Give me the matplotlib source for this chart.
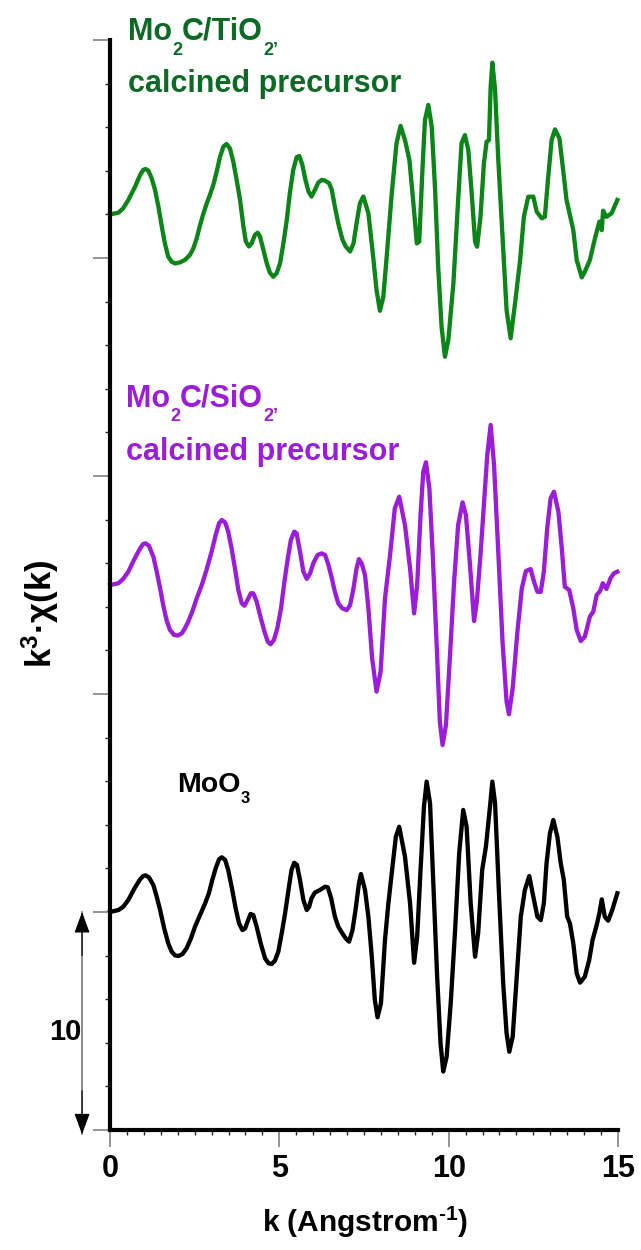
import matplotlib.pyplot as plt
import matplotlib.transforms as mtransforms
from matplotlib.ticker import MultipleLocator
import numpy as np

plt.rcParams["font.family"] = ["Liberation Sans", "DejaVu Sans"]
plt.rcParams["font.weight"] = "bold"
plt.rcParams["mathtext.default"] = "regular"

# k^3*chi(k)
green_k = [0, 0.25, 0.39, 0.54, 0.74, 0.89, 0.98, 1.05, 1.13, 1.23, 1.33, 1.43, 1.53, 1.62, 1.72,
           1.82, 1.92, 2.07, 2.21, 2.36, 2.46, 2.56, 2.66, 2.76, 2.85, 2.95, 3.05, 3.15, 3.25, 3.35,
           3.44, 3.54, 3.64, 3.74, 3.84, 3.94, 4.01, 4.10, 4.18, 4.28, 4.36, 4.43, 4.53, 4.63, 4.72,
           4.82, 4.92, 5.02, 5.12, 5.22, 5.31, 5.41, 5.51, 5.59, 5.68, 5.76, 5.86, 5.95, 6.05, 6.15,
           6.25, 6.35, 6.47, 6.55, 6.64, 6.74, 6.86, 6.96, 7.09, 7.19, 7.28, 7.38, 7.48,
           7.63, 7.77, 7.87, 7.97, 8.07, 8.17, 8.32, 8.46, 8.58, 8.71, 8.84, 8.95, 9.06, 9.13, 9.23,
           9.30, 9.40, 9.50, 9.60, 9.69, 9.79, 9.89, 9.99, 10.14, 10.28, 10.38, 10.48, 10.58, 10.68,
           10.78, 10.84, 10.94, 11.04, 11.12, 11.19, 11.24, 11.29, 11.37, 11.46, 11.59, 11.71, 11.83,
           11.96, 12.11, 12.22, 12.35, 12.50, 12.60, 12.75, 12.84, 12.94, 13.04, 13.14, 13.27, 13.38,
           13.48, 13.68, 13.78, 13.93, 14.02, 14.17, 14.32, 14.45, 14.52, 14.56, 14.66, 14.81, 14.98]
green_chi = [0.0, 0.08, 0.28, 0.66, 1.27, 1.81, 2.04, 2.08, 2.01, 1.66, 1.12, 0.35, -0.56, -1.33,
             -1.94, -2.17, -2.25, -2.20, -2.09, -1.86, -1.56, -1.10, -0.49, 0.05, 0.48, 0.89, 1.35,
             1.96, 2.65, 3.11, 3.23, 3.03, 2.42, 1.58, 0.66, -0.56, -1.24, -1.47, -1.33, -0.94, -0.84,
             -1.02, -1.63, -2.25, -2.67, -2.86, -2.70, -2.25, -1.33, -0.26, 0.97, 2.04, 2.62, 2.68,
             2.27, 1.66, 1.05, 0.82, 1.12, 1.46, 1.58, 1.55, 1.43, 1.12, 0.35, -0.41, -1.14, -1.47,
             -1.70, -1.33, -0.41, 0.51, 0.82,
             0.05, -1.94, -3.47, -4.42, -3.78, -1.94, 0.97, 3.26, 4.06, 3.41, 2.50, 0.66, -1.33,
             -1.25, 2.19, 4.33, 5.02, 4.02, 1.12, -2.40, -5.15, -6.53, -5.76, -3.16, 0.66, 3.26, 3.64,
             2.95, 0.97, -1.25, -1.48, -0.11, 2.34, 3.33, 3.41, 5.86, 6.96, 5.71, 2.65, -1.02, -4.39,
             -5.68, -4.08, -2.09, -0.11, 0.81, 0.81, 0.12, -0.18, -0.11, 1.73, 3.41, 3.90, 3.49, 2.04,
             0.66, -0.72, -2.09, -2.89, -2.63, -2.09, -1.10, -0.33, -0.72, 0.17, -0.11, 0.05, 0.66]

purple_k = [0, 0.25, 0.39, 0.54, 0.74, 0.89, 0.98, 1.05, 1.15, 1.28, 1.38, 1.48, 1.57, 1.67, 1.77,
            1.89, 2.00, 2.12, 2.21, 2.31, 2.43, 2.56, 2.71, 2.85, 3.00, 3.12, 3.22, 3.30, 3.40, 3.49,
            3.59, 3.69, 3.79, 3.89, 3.97, 4.06, 4.16, 4.23, 4.33, 4.43, 4.56, 4.66, 4.74, 4.84, 4.94,
            5.05, 5.15, 5.25, 5.34, 5.44, 5.51, 5.61, 5.71, 5.81, 5.91, 6.00, 6.13, 6.25, 6.35, 6.45,
            6.55, 6.64, 6.74, 6.86, 6.99, 7.09, 7.19, 7.28, 7.35, 7.43,
            7.53, 7.63, 7.74, 7.87, 7.99, 8.12, 8.27, 8.41, 8.54, 8.71, 8.86, 8.98, 9.07, 9.17, 9.25,
            9.33, 9.43, 9.53, 9.65, 9.74, 9.82, 9.92, 10.04, 10.16, 10.28, 10.41, 10.51, 10.63, 10.75,
            10.83, 10.94, 11.04, 11.14, 11.24, 11.34, 11.46, 11.59, 11.71, 11.78, 11.89, 12.03, 12.16,
            12.28, 12.42, 12.52, 12.62, 12.72, 12.81, 12.91, 13.01, 13.11, 13.24, 13.34, 13.43, 13.56,
            13.68, 13.78, 13.90, 14.02, 14.17, 14.27, 14.37, 14.47, 14.55, 14.66, 14.78, 14.88, 14.98]
purple_chi = [0.0, 0.08, 0.28, 0.61, 1.25, 1.68, 1.88, 1.91, 1.80, 1.30, 0.61, -0.15, -0.92, -1.61,
              -2.06, -2.29, -2.32, -2.22, -1.99, -1.68, -1.22, -0.61, 0.0, 0.69, 1.53, 2.29, 2.83,
              2.98, 2.87, 2.45, 1.68, 0.76, -0.23, -0.84, -0.95, -0.69, -0.38, -0.38, -0.76, -1.38,
              -2.14, -2.60, -2.72, -2.52, -1.99, -1.07, 0.15, 1.22, 2.06, 2.45, 2.37, 1.53, 0.61, 0.28,
              0.54, 0.99, 1.38, 1.45, 1.38, 0.92, 0.31, -0.31, -0.84, -1.07, -1.15, -0.92, -0.15, 0.76,
              1.19, 0.99,
              0.46, -1.07, -3.36, -4.89, -3.98, -0.61, 1.38, 3.52, 4.05, 2.75, 0.77, -1.30, 0.00, 3.21,
              5.20, 5.63, 4.44, 1.38, -2.90, -6.27, -7.34, -6.42, -3.21, 0.15, 2.75, 3.79, 3.21, 0.92,
              -1.65, -0.77, 1.38, 3.67, 5.96, 7.34, 5.50, 1.68, -2.60, -5.35, -5.93, -4.74, -2.14,
              -0.15, 0.64, 0.73, 0.15, -0.31, -0.31, 0.61, 2.60, 3.98, 4.28, 3.36, 1.68, -0.08, -0.23,
              -1.07, -2.06, -2.57, -2.37, -1.45, -1.22, -0.46, -0.28, 0.08, -0.18, 0.31, 0.54, 0.61]

black_k = [0, 0.25, 0.39, 0.54, 0.74, 0.89, 0.98, 1.05, 1.15, 1.28, 1.38, 1.48, 1.60, 1.72, 1.82,
           1.92, 2.02, 2.14, 2.26, 2.39, 2.51, 2.66, 2.81, 2.92, 3.02, 3.12, 3.22, 3.30, 3.40, 3.49,
           3.61, 3.71, 3.81, 3.91, 3.99, 4.08, 4.15, 4.23, 4.33, 4.45, 4.58, 4.68, 4.77, 4.87, 4.97,
           5.07, 5.17, 5.27, 5.36, 5.44, 5.52, 5.61, 5.71, 5.81, 5.88, 5.95, 6.05, 6.20, 6.35, 6.43,
           6.53, 6.64, 6.74, 6.86, 6.96, 7.06, 7.16, 7.25, 7.35, 7.41,
           7.53, 7.63, 7.73, 7.82, 7.90, 8.00, 8.12, 8.22, 8.33, 8.44, 8.54, 8.71, 8.86, 8.98, 9.07,
           9.17, 9.27, 9.35, 9.45, 9.55, 9.66, 9.76, 9.84, 9.94, 10.06, 10.19, 10.31, 10.43, 10.53,
           10.65, 10.78, 10.87, 10.99, 11.10, 11.22, 11.29, 11.37, 11.49, 11.61, 11.71, 11.79, 11.89,
           12.01, 12.13, 12.25, 12.38, 12.50, 12.62, 12.72, 12.81, 12.89, 12.99, 13.09, 13.21, 13.31,
           13.40, 13.50, 13.58, 13.68, 13.78, 13.88, 14.02, 14.15, 14.25, 14.37, 14.45, 14.52, 14.61,
           14.71, 14.83, 14.98]
black_chi = [0.0, 0.09, 0.24, 0.55, 1.13, 1.50, 1.65, 1.68, 1.59, 1.24, 0.70, 0.09, -0.75, -1.44,
             -1.82, -1.99, -2.02, -1.93, -1.67, -1.21, -0.67, -0.14, 0.40, 0.86, 1.47, 2.00, 2.42,
             2.51, 2.39, 1.93, 1.01, 0.17, -0.52, -0.83, -0.75, -0.37, -0.09, -0.14, -0.67, -1.44,
             -2.13, -2.35, -2.39, -2.23, -1.82, -0.98, -0.06, 1.01, 1.93, 2.26, 2.16, 1.47, 0.55, 0.09,
             0.24, 0.63, 0.89, 1.01, 1.16, 1.13, 0.63, -0.21, -0.67, -0.98, -1.21, -1.36, -0.83, 0.09,
             1.31, 1.74,
             1.01, -0.22, -2.05, -4.04, -4.83, -4.19, -1.28, 0.40, 1.93, 3.45, 3.91, 2.54, 0.40, -2.33,
             -1.13, 1.93, 4.83, 5.98, 4.99, 1.16, -2.97, -6.02, -7.32, -6.64, -4.19, -0.83, 2.69, 4.68,
             3.91, 0.40, -2.05, -0.98, 1.93, 3.00, 4.83, 5.98, 4.99, 0.70, -3.27, -5.56, -6.41, -5.72,
             -2.97, -0.22, 1.01, 1.65, 0.70, -0.22, -0.37, 0.40, 2.23, 3.61, 4.22, 3.45, 2.23, 1.47,
             -0.22, -0.52, -1.44, -2.81, -3.24, -2.97, -2.20, -1.28, -0.60, -0.06, 0.58, -0.22, -0.40,
             0.09, 0.86]

# vertical offset of every curve (same units as k^3*chi)
green_offset = 42
purple_offset = 25
black_offset = 10

line_green = "#0b8418"
text_green = "#0c6a24"
line_purple = "#9b1dd8"


# write a formula piece by piece, subscripts hang below the baseline
def chem_label(ax, x, y, pieces, color, size, sub_size, sub_shift):
    prev = None
    for s, is_sub in pieces:
        fs = sub_size if is_sub else size
        dy = -sub_shift if is_sub else 0
        if prev is None:
            prev = ax.text(x, y, s, color=color, fontsize=fs, va="baseline")
        else:
            prev = ax.annotate(s, xy=(1, y), xycoords=(prev, "data"), xytext=(0, dy),
                               textcoords="offset points", color=color, fontsize=fs,
                               va="baseline", ha="left", annotation_clip=False)


def plot_curves(ax):
    ax.plot(green_k, np.array(green_chi) + green_offset, color=line_green, lw=3.1,
            solid_joinstyle="round", clip_on=False)
    ax.plot(purple_k, np.array(purple_chi) + purple_offset, color=line_purple, lw=3.1,
            solid_joinstyle="round", clip_on=False)
    ax.plot(black_k, np.array(black_chi) + black_offset, color="black", lw=3.1,
            solid_joinstyle="round", clip_on=False)

    # sample names
    chem_label(ax, 0.53, 50.0, [("Mo", False), ("2", True), ("C/TiO", False), ("2’", True)],
               text_green, 22, 13, 10.5)
    ax.text(0.53, 47.6, "calcined precursor", color=text_green, fontsize=22, va="baseline")
    chem_label(ax, 0.47, 33.18, [("Mo", False), ("2", True), ("C/SiO", False), ("2’", True)],
               line_purple, 22, 13, 10.5)
    ax.text(0.47, 30.73, "calcined precursor", color=line_purple, fontsize=22, va="baseline")
    chem_label(ax, 1.99, 15.5, [("MoO", False), ("3", True)], "black", 20.5, 12, 8)


def style_axes(ax):
    ax.set_xlim(0, 15)
    ax.set_ylim(0, 50)
    for s in ["top", "right"]:
        ax.spines[s].set_visible(False)
    ax.spines["left"].set_linewidth(3.0)
    ax.spines["bottom"].set_linewidth(3.0)

    ax.xaxis.set_major_locator(MultipleLocator(5))
    ax.xaxis.set_minor_locator(MultipleLocator(0.5))
    ax.yaxis.set_major_locator(MultipleLocator(10))
    ax.yaxis.set_minor_locator(MultipleLocator(2))
    ax.tick_params(which="major", direction="out", length=12, width=1.1, color="#777777",
                   labelsize=22, pad=5)
    ax.tick_params(which="minor", direction="out", length=3.5, width=1.0, color="#222222")
    ax.tick_params(axis="y", which="both", labelleft=False)

    # scale bar: 10 units
    trans = mtransforms.blended_transform_factory(ax.transAxes, ax.transData)
    ax.plot([-0.055, -0.055], [-0.2, 10], transform=trans, color="#777777", lw=1.2, clip_on=False)
    head = dict(arrowstyle="-|>,head_length=0.6,head_width=0.22", color="black", lw=0.8,
                mutation_scale=22, shrinkA=0, shrinkB=0)
    ax.annotate("", xy=(-0.055, 10), xytext=(-0.055, 8), xycoords=trans, textcoords=trans,
                arrowprops=head, annotation_clip=False)
    ax.annotate("", xy=(-0.055, -0.2), xytext=(-0.055, 1.8), xycoords=trans, textcoords=trans,
                arrowprops=head, annotation_clip=False)
    ax.text(-0.087, 4.5, "10", transform=trans, ha="center", va="center", fontsize=21)


fig = plt.figure(figsize=(6.41, 12.5), dpi=100)
ax = fig.add_axes([110 / 641, 1 - 1130 / 1250, 508 / 641, 1090 / 1250])

plot_curves(ax)
style_axes(ax)

fig.text(40 / 641, 1 - 614 / 1250, "k$^3$·χ(k)", rotation=90, ha="center", va="center", fontsize=25)
fig.text(365 / 641, 1 - 1222 / 1250, "k (Angstrom$^{‐1}$)", ha="center", va="center", fontsize=21.5)

fig.savefig("out.png", dpi=100)
